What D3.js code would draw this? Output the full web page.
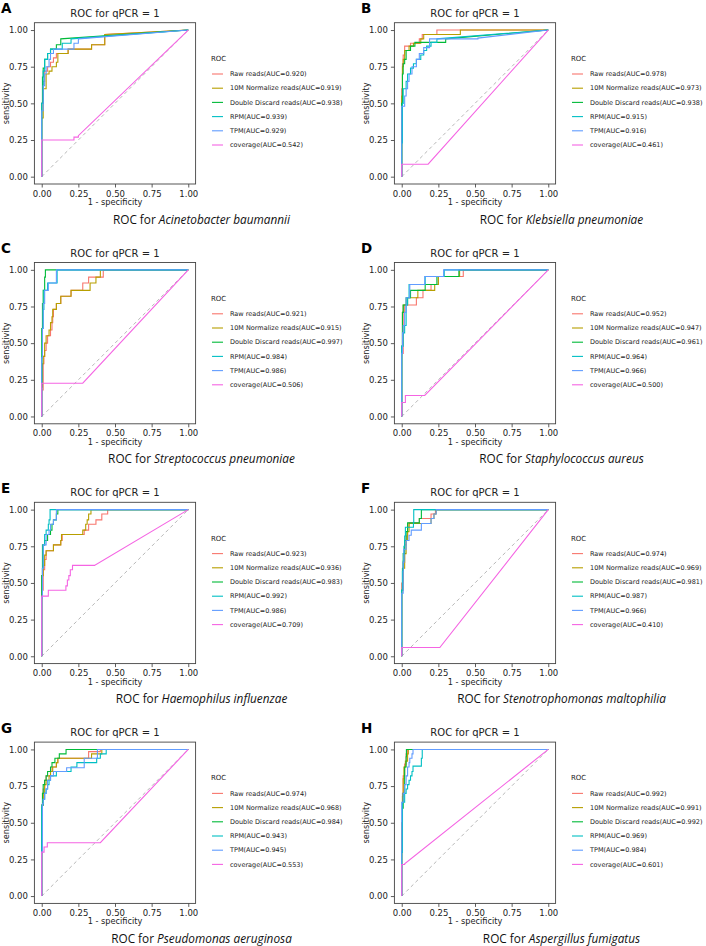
<!DOCTYPE html>
<html>
<head>
<meta charset="utf-8">
<script src="https://cdn.jsdelivr.net/npm/d3@7"></script>
<style>
  body { margin: 0; background: #fff; }
  svg { display: block; }
</style>
</head>
<body>
<script>
// ---- data ----
const panelLetters = ['A', 'B', 'C', 'D', 'E', 'F', 'G', 'H'];
const species = [
  'Acinetobacter baumannii', 'Klebsiella pneumoniae',
  'Streptococcus pneumoniae', 'Staphylococcus aureus',
  'Haemophilus influenzae', 'Stenotrophomonas maltophilia',
  'Pseudomonas aeruginosa', 'Aspergillus fumigatus'
];
const methods = ['Raw reads', '10M Normalize reads', 'Double Discard reads', 'RPM', 'TPM', 'coverage'];
const methodColors = ['#F8766D', '#B79F00', '#00BA38', '#00BFC4', '#619CFF', '#F564E3'];
const ticks = [0, 0.25, 0.5, 0.75, 1];

const auc = [
  [0.920, 0.919, 0.938, 0.939, 0.929, 0.542],
  [0.978, 0.973, 0.938, 0.915, 0.916, 0.461],
  [0.921, 0.915, 0.997, 0.984, 0.986, 0.506],
  [0.952, 0.947, 0.961, 0.964, 0.966, 0.500],
  [0.923, 0.936, 0.983, 0.992, 0.986, 0.709],
  [0.974, 0.969, 0.981, 0.987, 0.966, 0.410],
  [0.974, 0.968, 0.984, 0.943, 0.945, 0.553],
  [0.992, 0.991, 0.992, 0.969, 0.984, 0.601]
];

// each point [fpr, tpr]: run right at the old tpr, then rise; last segment straight to (1,1)
const rocA = [
  [[0,0],[0,0.5],[0.01,0.65],[0.02,0.72],[0.04,0.75],[0.06,0.78],[0.08,0.81],[0.1,0.84],[0.18,0.87],[0.34,0.9],[0.43,0.97],[1,1]],
  [[0,0],[0,0.4],[0.01,0.6],[0.03,0.7],[0.05,0.72],[0.07,0.75],[0.1,0.78],[0.11,0.84],[0.18,0.87],[0.34,0.9],[0.43,0.97],[1,1]],
  [[0,0],[0,0.5],[0.005,0.68],[0.01,0.74],[0.02,0.8],[0.04,0.84],[0.06,0.87],[0.1,0.9],[0.13,0.94],[1,1]],
  [[0,0],[0,0.5],[0.01,0.72],[0.02,0.8],[0.04,0.84],[0.06,0.87],[0.14,0.91],[0.2,0.94],[1,1]],
  [[0,0],[0,0.45],[0.01,0.62],[0.02,0.7],[0.03,0.75],[0.05,0.8],[0.06,0.84],[0.08,0.87],[0.22,0.91],[0.25,0.94],[1,1]],
  [[0,0],[0,0.25],[0.22,0.27],[0.25,0.28],[1,1]]
];
const rocB = [
  [[0,0],[0,0.6],[0.005,0.77],[0.01,0.83],[0.02,0.89],[0.06,0.91],[0.12,0.94],[0.14,0.97],[0.24,1],[1,1]],
  [[0,0],[0,0.55],[0.005,0.75],[0.01,0.8],[0.02,0.86],[0.05,0.89],[0.08,0.91],[0.13,0.94],[0.15,0.97],[0.4,1],[1,1]],
  [[0,0],[0,0.5],[0.005,0.7],[0.01,0.77],[0.02,0.8],[0.03,0.86],[0.06,0.89],[0.09,0.916],[0.3,0.94],[1,1]],
  [[0,0],[0,0.23],[0.005,0.5],[0.01,0.6],[0.03,0.65],[0.04,0.7],[0.06,0.74],[0.08,0.77],[0.1,0.8],[0.13,0.83],[0.15,0.86],[0.17,0.89],[0.2,0.916],[0.24,0.94],[1,1]],
  [[0,0],[0,0.48],[0.02,0.55],[0.03,0.6],[0.04,0.65],[0.05,0.7],[0.07,0.75],[0.1,0.8],[0.12,0.84],[0.15,0.88],[0.19,0.94],[0.52,0.945],[1,1]],
  [[0,0],[0,0.085],[0.18,0.085],[1,1]]
];
const rocC = [
  [[0,0],[0,0.18],[0.01,0.36],[0.015,0.41],[0.02,0.45],[0.03,0.5],[0.04,0.55],[0.06,0.59],[0.07,0.64],[0.075,0.68],[0.08,0.73],[0.1,0.77],[0.13,0.82],[0.2,0.86],[0.28,0.91],[0.32,0.95],[0.42,1],[1,1]],
  [[0,0],[0,0.2],[0.005,0.36],[0.01,0.41],[0.02,0.5],[0.03,0.55],[0.05,0.59],[0.06,0.64],[0.07,0.68],[0.075,0.73],[0.1,0.77],[0.13,0.82],[0.2,0.86],[0.33,0.91],[0.37,0.95],[0.4,1],[1,1]],
  [[0,0],[0,0.6],[0.005,0.77],[0.01,0.86],[0.02,0.95],[0.025,1],[1,1]],
  [[0,0],[0,0.4],[0.005,0.6],[0.01,0.73],[0.015,0.86],[0.04,0.91],[0.105,1],[1,1]],
  [[0,0],[0,0.4],[0.005,0.6],[0.01,0.77],[0.02,0.86],[0.045,0.91],[0.1,1],[1,1]],
  [[0,0],[0,0.227],[0.28,0.227],[1,1]]
];
const rocD = [
  [[0,0],[0,0.43],[0.01,0.71],[0.02,0.76],[0.1,0.81],[0.145,0.86],[0.2,0.9],[0.25,0.955],[0.42,1],[1,1]],
  [[0,0],[0,0.43],[0.005,0.71],[0.01,0.76],[0.04,0.81],[0.11,0.86],[0.225,0.9],[0.25,0.955],[0.395,1],[1,1]],
  [[0,0],[0,0.48],[0.005,0.71],[0.01,0.76],[0.03,0.81],[0.06,0.86],[0.16,0.9],[0.24,0.955],[0.39,1],[1,1]],
  [[0,0],[0,0.48],[0.01,0.57],[0.02,0.62],[0.03,0.76],[0.04,0.81],[0.05,0.9],[0.16,0.955],[0.29,1],[1,1]],
  [[0,0],[0,0.43],[0.005,0.57],[0.01,0.62],[0.02,0.71],[0.03,0.81],[0.055,0.9],[0.157,0.955],[0.286,1],[1,1]],
  [[0,0],[0,0.095],[0.025,0.143],[0.157,0.143],[1,1]]
];
const rocE = [
  [[0,0],[0,0.45],[0.01,0.59],[0.02,0.66],[0.03,0.72],[0.08,0.76],[0.13,0.79],[0.14,0.83],[0.29,0.86],[0.32,0.9],[0.37,0.93],[0.41,0.97],[0.45,1],[1,1]],
  [[0,0],[0,0.55],[0.01,0.62],[0.02,0.69],[0.03,0.72],[0.08,0.76],[0.13,0.79],[0.135,0.83],[0.28,0.86],[0.3,0.9],[0.31,0.93],[0.32,0.97],[0.336,1],[1,1]],
  [[0,0],[0,0.55],[0.005,0.76],[0.02,0.79],[0.04,0.83],[0.06,0.86],[0.07,0.9],[0.08,0.93],[0.1,0.97],[0.11,1],[1,1]],
  [[0,0],[0,0.4],[0.005,0.6],[0.01,0.76],[0.02,0.83],[0.03,0.86],[0.045,0.9],[0.05,0.93],[0.057,1],[1,1]],
  [[0,0],[0,0.4],[0.005,0.6],[0.01,0.76],[0.03,0.83],[0.05,0.86],[0.06,0.9],[0.08,0.93],[0.1,1],[1,1]],
  [[0,0],[0,0.41],[0.045,0.45],[0.165,0.48],[0.175,0.52],[0.185,0.55],[0.195,0.59],[0.21,0.62],[0.36,0.62],[1,1]]
];
const rocF = [
  [[0,0],[0,0.5],[0.01,0.64],[0.02,0.76],[0.03,0.82],[0.04,0.88],[0.05,0.91],[0.12,0.94],[0.2,0.97],[0.23,1],[1,1]],
  [[0,0],[0,0.45],[0.01,0.6],[0.02,0.7],[0.03,0.79],[0.04,0.85],[0.05,0.905],[0.2,0.94],[0.22,0.97],[0.235,1],[1,1]],
  [[0,0],[0,0.45],[0.005,0.6],[0.01,0.7],[0.02,0.79],[0.03,0.85],[0.04,0.91],[0.12,0.94],[0.134,1],[1,1]],
  [[0,0],[0,0.45],[0.005,0.58],[0.01,0.65],[0.015,0.75],[0.02,0.82],[0.025,0.88],[0.08,0.91],[0.082,1],[1,1]],
  [[0,0],[0,0.43],[0.01,0.64],[0.015,0.73],[0.03,0.79],[0.05,0.825],[0.065,0.86],[0.134,0.905],[0.2,0.94],[0.22,0.97],[0.235,1],[1,1]],
  [[0,0],[0,0.06],[0.26,0.06],[1,1]]
];
const rocG = [
  [[0,0],[0,0.62],[0.01,0.73],[0.02,0.79],[0.03,0.82],[0.06,0.85],[0.07,0.88],[0.1,0.91],[0.11,0.94],[0.32,0.985],[0.4,1],[1,1]],
  [[0,0],[0,0.62],[0.01,0.7],[0.02,0.76],[0.03,0.79],[0.05,0.82],[0.06,0.85],[0.075,0.88],[0.1,0.91],[0.11,0.94],[0.34,0.97],[0.41,1],[1,1]],
  [[0,0],[0,0.6],[0.005,0.7],[0.01,0.76],[0.02,0.79],[0.03,0.82],[0.04,0.85],[0.06,0.88],[0.07,0.91],[0.09,0.94],[0.12,0.97],[0.166,1],[1,1]],
  [[0,0],[0,0.62],[0.01,0.66],[0.02,0.7],[0.03,0.73],[0.04,0.76],[0.05,0.79],[0.06,0.82],[0.1,0.85],[0.2,0.88],[0.24,0.91],[0.375,0.94],[0.4,0.97],[0.44,1],[1,1]],
  [[0,0],[0,0.3],[0.005,0.63],[0.01,0.66],[0.02,0.7],[0.03,0.73],[0.04,0.79],[0.06,0.82],[0.08,0.85],[0.17,0.875],[0.29,0.94],[0.38,1],[1,1]],
  [[0,0],[0,0.3],[0.016,0.335],[0.038,0.364],[0.4,0.364],[1,1]]
];
const rocH = [
  [[0,0],[0,0.5],[0.005,0.7],[0.01,0.82],[0.02,0.9],[0.03,0.97],[0.04,1],[1,1]],
  [[0,0],[0,0.5],[0.005,0.68],[0.01,0.8],[0.015,0.88],[0.025,0.92],[0.04,0.97],[0.045,1],[1,1]],
  [[0,0],[0,0.3],[0.005,0.6],[0.01,0.7],[0.02,0.88],[0.03,0.95],[0.032,1],[1,1]],
  [[0,0],[0,0.3],[0.005,0.64],[0.02,0.7],[0.03,0.73],[0.04,0.76],[0.05,0.79],[0.06,0.82],[0.07,0.85],[0.077,0.886],[0.134,0.94],[0.14,1],[1,1]],
  [[0,0],[0,0.64],[0.01,0.7],[0.02,0.76],[0.03,0.82],[0.04,0.88],[0.05,0.91],[0.055,0.94],[0.07,0.97],[0.077,1],[1,1]],
  [[0,0],[0,0.215],[0.02,0.22],[1,1]]
];
const rocCurves = [rocA, rocB, rocC, rocD, rocE, rocF, rocG, rocH];

// ---- layout ----
const W = 706, H = 946;
const colStep = 360, rowStep = 239.8;

const svg = d3.select('body').append('svg')
  .attr('width', W).attr('height', H)
  .attr('font-family', '"DejaVu Sans", sans-serif');

// staircase corners between the listed points
function stairs(pts) {
  const out = [pts[0]];
  for (let i = 1; i < pts.length; i++) {
    const a = pts[i - 1], b = pts[i];
    if (i < pts.length - 1) out.push([b[0], a[1]]);
    out.push(b);
  }
  return out;
}

panelLetters.forEach((letter, p) => {
  const ox = (p % 2) * colStep, oy = Math.floor(p / 2) * rowStep;
  const g = svg.append('g').attr('transform', `translate(${ox},${oy})`);

  const x = d3.scaleLinear().domain([-0.05, 1.05]).range([34.4, 195.6]);
  const y = d3.scaleLinear().domain([-0.05, 1.05]).range([184, 22.7]);

  // axes
  const xAxis = g.append('g').attr('transform', `translate(0,${y(-0.05)})`)
    .call(d3.axisBottom(x).tickValues(ticks).tickFormat(d3.format('.2f')).tickSize(3.5).tickSizeOuter(0));
  const yAxis = g.append('g').attr('transform', `translate(${x(-0.05)},0)`)
    .call(d3.axisLeft(y).tickValues(ticks).tickFormat(d3.format('.2f')).tickSize(3.5).tickSizeOuter(0));
  [xAxis, yAxis].forEach(ax => {
    ax.select('.domain').remove();
    ax.selectAll('line').attr('stroke', '#333').attr('stroke-width', 0.8);
    ax.selectAll('text').attr('font-size', 8.5).attr('fill', '#222')
      .attr('font-family', '"DejaVu Sans", sans-serif');
  });
  xAxis.selectAll('text').attr('dy', '0.71em');

  // diagonal
  const line = d3.line().x(d => x(d[0])).y(d => y(d[1]));
  g.append('path').attr('d', line([[0, 0], [1, 1]]))
    .attr('fill', 'none').attr('stroke', '#b8b8b8').attr('stroke-width', 1)
    .attr('stroke-dasharray', '3.5,3');

  // curves
  rocCurves[p].forEach((pts, k) => {
    g.append('path').attr('d', line(stairs(pts)))
      .attr('fill', 'none').attr('stroke', methodColors[k])
      .attr('stroke-width', 1.1).attr('stroke-linejoin', 'miter');
  });

  // frame
  g.append('rect')
    .attr('x', x(-0.05)).attr('y', y(1.05))
    .attr('width', x(1.05) - x(-0.05)).attr('height', y(-0.05) - y(1.05))
    .attr('fill', 'none').attr('stroke', '#444').attr('stroke-width', 0.9);

  // texts
  g.append('text').attr('x', 1).attr('y', 13.3)
    .attr('font-family', '"DejaVu Sans", sans-serif')
    .attr('font-weight', 'bold').attr('font-size', 13.5).text(letter);
  g.append('text').attr('x', (x(-0.05) + x(1.05)) / 2).attr('y', 16.8)
    .attr('text-anchor', 'middle').attr('font-size', 10).attr('fill', '#222')
    .text('ROC for qPCR = 1');
  g.append('text').attr('x', (x(-0.05) + x(1.05)) / 2).attr('y', 205)
    .attr('text-anchor', 'middle').attr('font-size', 8.2).attr('fill', '#222')
    .text('1 - specificity');
  g.append('text')
    .attr('transform', `translate(9,${(y(-0.05) + y(1.05)) / 2}) rotate(-90)`)
    .attr('text-anchor', 'middle').attr('font-size', 8.2).attr('fill', '#222')
    .text('sensitivity');

  const bottom = g.append('text').attr('x', 201.5).attr('y', 223.5)
    .attr('text-anchor', 'middle').attr('font-family', '"Open Sans", sans-serif')
    .attr('font-size', 11.8).attr('fill', '#111');
  bottom.append('tspan').text('ROC for ');
  bottom.append('tspan').attr('font-style', 'italic').text(species[p]);

  // legend
  const lg = g.append('g').attr('transform', 'translate(211,0)');
  lg.append('text').attr('x', 0).attr('y', 61).attr('font-size', 7).attr('fill', '#222').text('ROC');
  methods.forEach((m, k) => {
    const ry = 74 + k * 14.2;
    lg.append('line').attr('x1', 1).attr('x2', 12).attr('y1', ry).attr('y2', ry)
      .attr('stroke', methodColors[k]).attr('stroke-width', 1.1);
    lg.append('text').attr('x', 19).attr('y', ry).attr('dy', '0.35em')
      .attr('font-size', 6.5).attr('fill', '#222')
      .text(`${m}(AUC=${d3.format('.3f')(auc[p][k])})`);
  });
});
</script>
</body>
</html>
